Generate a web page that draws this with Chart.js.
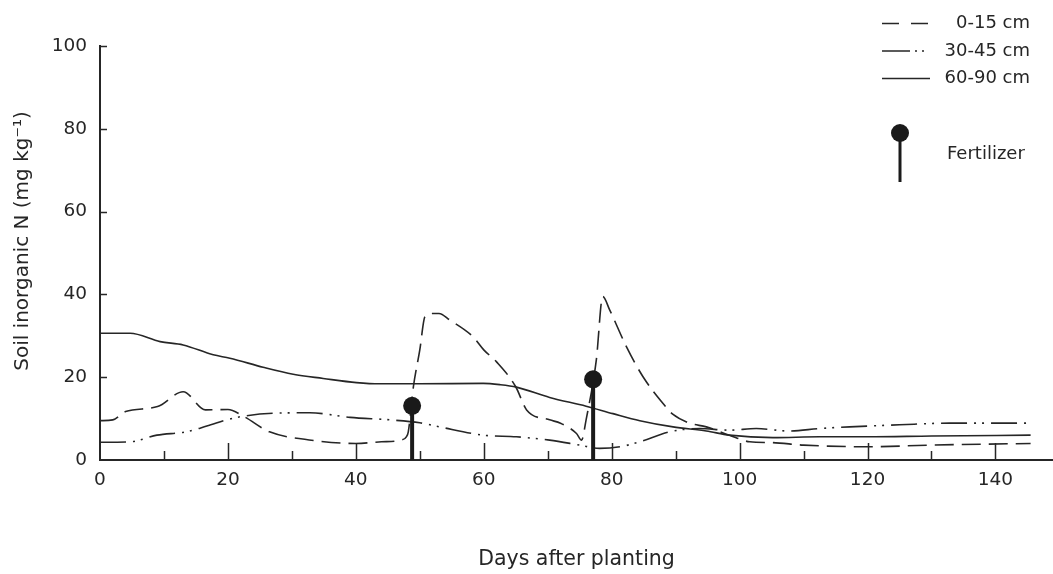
<!DOCTYPE html>
<html>
<head>
<meta charset="utf-8">
<title>Soil inorganic N after planting</title>
<script src="https://cdn.jsdelivr.net/npm/chart.js@4/dist/chart.umd.min.js"></script>
<style>
  html, body { margin: 0; padding: 0; background: #ffffff; }
  #wrap { width: 1053px; height: 574px; position: relative; }
</style>
</head>
<body>
<div id="wrap"><canvas id="chart" width="1053" height="574"></canvas></div>
<script>
// ---- data ----
const seriesNames = ['0-15 cm', '30-45 cm', '60-90 cm'];

// 0-15 cm layer
const days015 = [0, 2, 4, 9, 13, 16.5, 20, 22.5, 26.5, 32, 40, 44, 47, 47.9, 48.2, 49, 50, 50.8, 52, 53, 54.7, 58.3, 60, 62, 65, 66.7, 70.3, 72, 74.5, 75.3, 76, 77.6, 78.6, 79.7, 82.3, 84.9, 88, 89.6, 92.2, 94.8, 98.4, 101.6, 105, 110, 120, 130, 145.5];
const n015    = [9.5, 9.7, 11.7, 12.9, 16.5, 12.1, 12.2, 10.5, 6.8, 5.0, 4.0, 4.4, 4.8, 5.6, 6.8, 17.7, 26.6, 34.6, 35.4, 35.4, 33.8, 29.8, 26.6, 23.7, 17.7, 12.1, 9.7, 8.9, 6.4, 4.8, 9.7, 24.2, 39.5, 36.2, 27.4, 20.1, 13.7, 11.0, 8.9, 8.0, 6.0, 4.4, 4.2, 3.6, 3.2, 3.6, 4.0];

// 30-45 cm layer
const days3045 = [0, 4.7, 8.9, 13.5, 16.7, 20.8, 27.1, 32.8, 39.1, 45.3, 50, 53.1, 59.9, 65.1, 70.3, 75, 78.1, 81.3, 84.4, 89, 93.75, 98.4, 102.6, 107.8, 112.5, 117.2, 125, 132.8, 145.5];
const n3045    = [4.3, 4.4, 6.0, 6.8, 8.2, 10.1, 11.3, 11.4, 10.3, 9.7, 9.0, 8.0, 6.0, 5.6, 4.8, 3.6, 2.8, 3.2, 4.4, 6.8, 7.6, 7.2, 7.6, 7.0, 7.6, 8.0, 8.5, 8.9, 8.9];

// 60-90 cm layer
const days6090 = [0, 4.7, 9.4, 13, 17.7, 20.3, 25.5, 30.2, 34.9, 40.1, 43.75, 50, 59.9, 62.5, 65.1, 70.3, 76, 80.2, 84.4, 89.6, 94.8, 98.4, 105.2, 112.5, 120, 130, 145.5];
const n6090    = [30.6, 30.6, 28.6, 27.8, 25.4, 24.6, 22.4, 20.7, 19.7, 18.7, 18.4, 18.4, 18.5, 18.2, 17.6, 15.1, 13.0, 11.2, 9.5, 8.0, 7.0, 6.0, 5.4, 5.6, 5.6, 5.8, 6.0];

// fertilizer applications
const fertLabel = 'Fertilizer';
const fertDays  = [48.8, 77.1];
const fertN     = [13.1, 19.5];

// axes
const xTicks      = [0, 20, 40, 60, 80, 100, 120, 140];
const xMinorTicks = [10, 30, 50, 70, 90, 110, 130];
const yTicks      = [0, 20, 40, 60, 80, 100];
const xTitle = 'Days after planting';
const yTitle = 'Soil inorganic N (mg kg\u207B\u00B9)';

// ---- styling ----
const INK = '#262626';
const FONT = 'DejaVu Sans';
const dashes = [[19, 8], [26, 7, 2, 6, 2, 7], []];

const toPts = (xs, ys) => xs.map((x, i) => ({ x: x, y: ys[i] }));

const seriesData = [[days015, n015], [days3045, n3045], [days6090, n6090]];

const lineSets = seriesData.map(([xs, ys], i) => ({
  type: 'line',
  label: seriesNames[i],
  data: toPts(xs, ys),
  borderColor: INK,
  borderWidth: 1.6,
  borderDash: dashes[i],
  pointRadius: 0,
  cubicInterpolationMode: 'monotone',
  fill: false,
  order: 2
}));

const stemSets = fertDays.map((d, i) => ({
  type: 'line',
  label: fertLabel + ' stem',
  data: [{ x: d, y: 0 }, { x: d, y: fertN[i] }],
  borderColor: '#1a1a1a',
  borderWidth: 4,
  pointRadius: 0,
  fill: false,
  order: 1
}));

const fertSet = {
  type: 'scatter',
  label: fertLabel,
  data: toPts(fertDays, fertN),
  backgroundColor: '#1a1a1a',
  borderWidth: 0,
  pointRadius: 9,
  pointHoverRadius: 9,
  order: 0
};

// inward tick marks on both axes
const innerTicks = {
  id: 'innerTicks',
  afterDatasetsDraw(chart) {
    const { ctx, chartArea } = chart;
    const xs = chart.scales.x, ys = chart.scales.y;
    ctx.save();
    ctx.strokeStyle = INK;
    ctx.lineWidth = 1.5;
    ctx.beginPath();
    xTicks.forEach(v => {
      if (v === 0) return;
      const px = Math.round(xs.getPixelForValue(v)) + 0.5;
      ctx.moveTo(px, chartArea.bottom);
      ctx.lineTo(px, chartArea.bottom - 17);
    });
    xMinorTicks.forEach(v => {
      const px = Math.round(xs.getPixelForValue(v)) + 0.5;
      ctx.moveTo(px, chartArea.bottom);
      ctx.lineTo(px, chartArea.bottom - 9);
    });
    yTicks.forEach(v => {
      if (v === 0) return;
      const py = Math.round(ys.getPixelForValue(v)) + 0.5;
      ctx.moveTo(chartArea.left, py);
      ctx.lineTo(chartArea.left + 7, py);
    });
    ctx.stroke();
    ctx.restore();
  }
};

// vertical axis title
const yAxisTitle = {
  id: 'yAxisTitle',
  afterDraw(chart) {
    const { ctx } = chart;
    ctx.save();
    ctx.translate(23, 241);
    ctx.rotate(-Math.PI / 2);
    ctx.fillStyle = INK;
    ctx.font = '20px "' + FONT + '"';
    ctx.textAlign = 'center';
    ctx.textBaseline = 'middle';
    ctx.fillText(yTitle, 0, 0);
    ctx.restore();
  }
};

// key in the upper right corner
const keyBox = {
  id: 'keyBox',
  afterDraw(chart) {
    const { ctx } = chart;
    ctx.save();
    ctx.strokeStyle = INK;
    ctx.fillStyle = INK;
    ctx.lineWidth = 1.6;
    ctx.font = '18px "' + FONT + '"';
    ctx.textBaseline = 'middle';
    ctx.textAlign = 'right';
    const rows = [23.5, 51, 78.5];
    const samples = [[17, 12], [28, 5, 2, 5, 2, 100], []];
    seriesNames.forEach((name, i) => {
      ctx.setLineDash(samples[i]);
      ctx.beginPath();
      ctx.moveTo(882, rows[i]);
      ctx.lineTo(i === 1 ? 926 : 930, rows[i]);
      ctx.stroke();
      ctx.setLineDash([]);
      ctx.fillText(name, 1030, rows[i]);
    });
    // fertilizer symbol
    ctx.fillStyle = '#1a1a1a';
    ctx.strokeStyle = '#1a1a1a';
    ctx.lineWidth = 3;
    ctx.beginPath();
    ctx.moveTo(900, 133);
    ctx.lineTo(900, 182);
    ctx.stroke();
    ctx.beginPath();
    ctx.arc(900, 133, 9, 0, Math.PI * 2);
    ctx.fill();
    ctx.fillStyle = INK;
    ctx.textAlign = 'left';
    ctx.fillText(fertLabel, 947, 154);
    ctx.restore();
  }
};

new Chart(document.getElementById('chart'), {
  type: 'line',
  data: { datasets: [fertSet, ...stemSets, ...lineSets] },
  options: {
    responsive: false,
    animation: false,
    events: [],
    layout: { autoPadding: false, padding: { top: 46, right: 0, bottom: 0, left: 0 } },
    plugins: {
      legend: { display: false },
      tooltip: { enabled: false },
      title: { display: false }
    },
    scales: {
      x: {
        type: 'linear',
        min: 0,
        max: 149,
        afterFit(scale) { scale.height = 114; },
        afterBuildTicks(scale) { scale.ticks = xTicks.map(v => ({ value: v })); },
        ticks: {
          includeBounds: false,
          color: INK,
          font: { family: FONT, size: 18.5 },
          padding: 9,
          maxRotation: 0
        },
        grid: { display: true, drawOnChartArea: false, drawTicks: false },
        border: { display: true, color: INK, width: 2 },
        title: {
          display: true,
          text: xTitle,
          color: INK,
          font: { family: FONT, size: 20.5 },
          padding: { top: 0, bottom: 2 }
        }
      },
      y: {
        type: 'linear',
        min: 0,
        max: 100,
        afterFit(scale) { scale.width = 100; },
        afterBuildTicks(scale) { scale.ticks = yTicks.map(v => ({ value: v })); },
        ticks: {
          color: INK,
          font: { family: FONT, size: 18.5 },
          padding: 13
        },
        grid: { display: true, drawOnChartArea: false, drawTicks: false },
        border: { display: true, color: INK, width: 2 }
      }
    }
  },
  plugins: [innerTicks, yAxisTitle, keyBox]
});
</script>
</body>
</html>
